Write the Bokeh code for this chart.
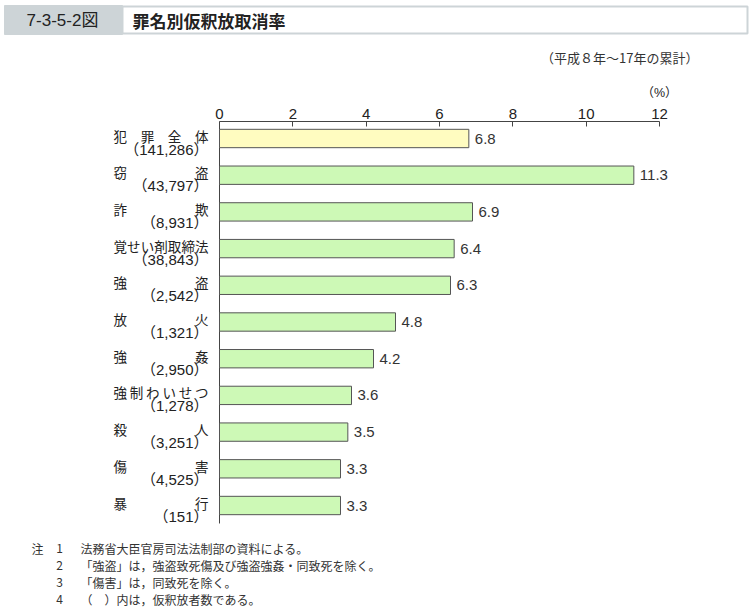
from bokeh.plotting import figure
from bokeh.layouts import column
from bokeh.models import Range1d, FixedTicker, ColumnDataSource
from bokeh.core.properties import value
from bokeh.embed import file_html
from bokeh.resources import INLINE

# ---- data ----
names = ["犯罪全体", "窃盗", "詐欺", "覚せい剤取締法", "強盗", "放火", "強姦",
         "強制わいせつ", "殺人", "傷害", "暴行"]
counts = [141286, 43797, 8931, 38843, 2542, 1321, 2950, 1278, 3251, 4525, 151]
rates = [6.8, 11.3, 6.9, 6.4, 6.3, 4.8, 4.2, 3.6, 3.5, 3.3, 3.3]
x_ticks = [0, 2, 4, 6, 8, 10, 12]
unit = "（%）"
title_no = "7-3-5-2図"
title_text = "罪名別仮釈放取消率"
subtitle = "（平成８年～17年の累計）"
notes_head = "注"
notes_no = ["1", "2", "3", "4"]
notes = ["法務省大臣官房司法法制部の資料による。",
         "「強盗」は，強盗致死傷及び強盗強姦・同致死を除く。",
         "「傷害」は，同致死を除く。",
         "（　）内は，仮釈放者数である。"]

W, H = 752, 612
HEAD_H = 101           # header figure height
AX_Y = 121             # page y of the axis line
FL, FR = 219, 659      # page x of 0 and 12
XMAX = 12
ROW0 = 138             # page y of first bar centre
ROWS = 36.7            # px per row
sx = (FR - FL) / XMAX

JP = "Noto Sans CJK JP"
LAT = "Liberation Sans"
MIX = f"{LAT}, {JP}"


def dx(px):
    return (px - FL) / sx


def dy(py):
    return (py - ROW0) / ROWS


# ---------------- header figure ----------------
h = figure(width=W, height=HEAD_H, output_backend="svg", toolbar_location=None,
           x_range=Range1d(0, W), y_range=Range1d(HEAD_H, 0),
           x_axis_location=None, y_axis_location=None,
           min_border=0)
h.outline_line_color = None
h.xgrid.visible = False
h.ygrid.visible = False
h.quad(left=[122], right=[747], top=[6], bottom=[33],
       fill_color="white", line_color="#cdd4d7", line_width=2)
h.quad(left=[4], right=[122], top=[5], bottom=[34],
       fill_color="#cdd4d7", line_color="#cdd4d7", line_width=1)
h.text(x=[62], y=[20], text=[title_no], text_font=value(MIX),
       text_font_size="17px", text_color="#222222",
       text_align="center", text_baseline="middle")
h.text(x=[132], y=[20], text=[title_text], text_font=value(JP),
       text_font_size="17px", text_font_style="bold", text_color="#222222",
       text_align="left", text_baseline="middle")
h.text(x=[698], y=[57], text=[subtitle], text_font=value(JP),
       text_font_size="13px", text_color="#333333",
       text_align="right", text_baseline="middle")
# unit above the last tick, at the same x as the 12 tick of the main axis
h.text(x=[FR], y=[92], text=[unit], text_font=value(MIX),
       text_font_size="12.5px", text_color="#222222",
       text_align="center", text_baseline="middle")

# ---------------- main figure ----------------
MH = H - HEAD_H
p = figure(width=W, height=MH, output_backend="svg", toolbar_location=None,
           x_range=Range1d(dx(0), dx(W)), y_range=Range1d(dy(H), dy(AX_Y)),
           x_axis_location="above", y_axis_location=None,
           min_border_left=0, min_border_right=0, min_border_bottom=0,
           min_border_top=AX_Y - HEAD_H)
p.outline_line_color = None
p.xgrid.visible = False
p.ygrid.visible = False

ax = p.xaxis[0]
ax.ticker = FixedTicker(ticks=x_ticks)
ax.bounds = (x_ticks[0], x_ticks[-1])
ax.axis_line_color = "#444444"
ax.major_tick_line_color = "#444444"
ax.major_tick_in = 5
ax.major_tick_out = 0
ax.minor_tick_line_color = None
ax.major_label_text_font = LAT
ax.major_label_text_font_size = "15px"
ax.major_label_text_color = "#222222"
ax.major_label_standoff = 3

idx = list(range(len(rates)))
# left axis line from the top axis to just below the last bar
p.segment(x0=[0], y0=[dy(AX_Y)], x1=[0], y1=[idx[-1] + 0.49],
          line_color="#444444", line_width=1)

colors = ["#fffcc0"] + ["#cdf9b6"] * (len(rates) - 1)
src = ColumnDataSource(dict(y=idx, right=rates, color=colors))
p.hbar(y="y", left=0, right="right", height=0.5, source=src,
       fill_color="color", line_color="#555555", line_width=1)

# value labels
p.text(x=rates, y=idx, text=[f"{r:.1f}" for r in rates], x_offset=6,
       text_font=value(LAT), text_font_size="15px", text_color="#333333",
       text_align="left", text_baseline="middle")

# category labels (justified characters)
L, R, cw = 113, 208, 13.5
cx, cy, ct = [], [], []
for i, nm in enumerate(names):
    n = len(nm)
    step = (R - L - cw) / (n - 1)
    for j, ch in enumerate(nm):
        cx.append(dx(L + cw / 2 + j * step))
        cy.append(i - 3 / ROWS)
        ct.append(ch)
p.text(x=cx, y=cy, text=ct, text_font=value(JP), text_font_size="13.5px",
       text_color="#222222", text_align="center", text_baseline="middle")

p.text(x=[dx(R)] * len(counts), y=[i + 10.5 / ROWS for i in idx],
       text=[f"（{c:,}）" for c in counts], text_font=value(MIX),
       text_font_size="15px", text_color="#222222",
       text_align="right", text_baseline="middle")

# notes
NY = 548
p.text(x=[dx(31)], y=[dy(NY)], text=[notes_head], text_font=value(JP),
       text_font_size="12px", text_color="#333333",
       text_align="left", text_baseline="middle")
p.text(x=[dx(59)] * len(notes_no), y=[dy(NY + k * 17) for k in range(len(notes_no))],
       text=notes_no, text_font=value(JP), text_font_size="12px", text_color="#333333",
       text_align="center", text_baseline="middle")
p.text(x=[dx(80)] * len(notes), y=[dy(NY + k * 17) for k in range(len(notes))],
       text=notes, text_font=value(JP), text_font_size="12px", text_color="#333333",
       text_align="left", text_baseline="middle")

layout = column(h, p, spacing=0)
open("out.html", "w").write(file_html(layout, INLINE))
